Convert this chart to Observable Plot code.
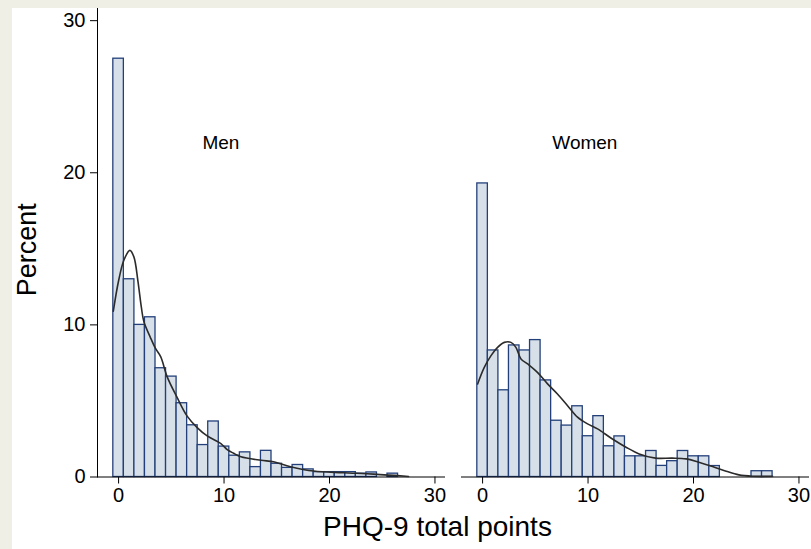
<!DOCTYPE html>
<html>
<head>
<meta charset="utf-8">
<script src="https://cdn.jsdelivr.net/npm/d3@7"></script>
<script src="https://cdn.jsdelivr.net/npm/@observablehq/plot@0.6"></script>
<style>
  html, body { margin: 0; padding: 0; background: #efefe6; width: 811px; height: 549px; overflow: hidden; }
  #chart { position: absolute; left: 12px; top: 8px; width: 799px; height: 541px; background: #ffffff; }
  #chart svg { overflow: visible; }
</style>
</head>
<body>
<div id="chart"></div>
<script>
// ---- data ----
const panels = ["Men", "Women"];
const scores = [0,1,2,3,4,5,6,7,8,9,10,11,12,13,14,15,16,17,18,19,20,21,22,23,24,25,26,27];
const menPct = [27.5, 13.0, 10.0, 10.5, 7.15, 6.6, 4.85, 3.4, 2.1, 3.65, 2.0, 1.4, 1.62, 0.65, 1.72, 0.87, 0.6, 0.79, 0.5, 0.32, 0.32, 0.32, 0.32, 0.22, 0.3, 0, 0.22, 0];
const womenPct = [19.3, 8.32, 5.7, 8.65, 8.32, 9.0, 6.35, 3.7, 3.38, 4.65, 2.68, 4.0, 2.02, 2.67, 1.36, 1.36, 1.71, 0.73, 1.04, 1.71, 1.36, 1.36, 0.72, 0, 0, 0, 0.38, 0.38];

const menKdeX = [-0.5, 0, 0.5, 1.07, 1.45, 1.83, 2.15, 2.4, 3, 3.5, 4, 4.6, 5.5, 6.5, 7.45, 8.4, 9.7, 10.3, 10.9, 11.6, 13.5, 14.7, 16.3, 18.5, 21.3, 24.2, 27.5];
const menKdeY = [10.9, 12.9, 14.25, 14.9, 14.47, 12.9, 11.2, 10.2, 9.2, 8.45, 7.9, 6.6, 5.3, 4.0, 3.25, 2.7, 2.2, 1.8, 1.56, 1.33, 1.1, 1.0, 0.68, 0.39, 0.28, 0.19, 0.03];
const womenKdeX = [-0.47, 0.16, 0.8, 1.42, 2.06, 2.69, 3.16, 3.64, 4.27, 5.2, 6.16, 7.1, 8.06, 9.0, 9.95, 10.9, 12.2, 13.6, 14.85, 16.4, 18.0, 19.3, 20.5, 21.8, 23.1, 24.3, 25.6, 27.5];
const womenKdeY = [6.12, 7.21, 7.98, 8.52, 8.85, 8.85, 8.52, 7.76, 7.43, 6.88, 6.12, 5.46, 4.69, 3.93, 3.49, 3.16, 2.55, 1.96, 1.52, 1.24, 1.24, 1.19, 0.97, 0.69, 0.38, 0.14, 0.05, 0.05];

const xTicks = [0, 10, 20, 30];
const yTicks = [0, 10, 20, 30];

// ---- tables built from the arrays ----
const bars = [];
scores.forEach((s, i) => {
  if (menPct[i] > 0) bars.push({sex: "Men", score: s, pct: menPct[i]});
  if (womenPct[i] > 0) bars.push({sex: "Women", score: s, pct: womenPct[i]});
});
const kde = [
  ...menKdeX.map((x, i) => ({sex: "Men", x, y: menKdeY[i]})),
  ...womenKdeX.map((x, i) => ({sex: "Women", x, y: womenKdeY[i]}))
];

const chart = Plot.plot({
  width: 799,
  height: 541,
  marginLeft: 85,
  marginRight: 2,
  marginTop: 0,
  marginBottom: 72.5,
  style: {background: "white", fontFamily: "'Liberation Sans', Arial, Helvetica, sans-serif", fontSize: "20px", color: "#000", overflow: "visible"},
  fx: {domain: panels, paddingInner: 0.044, paddingOuter: 0, axis: null, label: null},
  x: {domain: [-2, 31], ticks: xTicks, tickSize: 7, tickPadding: 4, label: null},
  y: {domain: [0, 30.8], ticks: yTicks, tickSize: 7, tickPadding: 5, label: null, line: true},
  marks: [
    Plot.rectY(bars, {
      x1: d => d.score - 0.5,
      x2: d => d.score + 0.5,
      y: "pct",
      fx: "sex",
      fill: "#d7e0e9",
      stroke: "#24407a",
      strokeWidth: 1.3
    }),
    Plot.ruleY([0], {stroke: "#000", strokeWidth: 1}),
    Plot.line(kde, {x: "x", y: "y", fx: "sex", stroke: "#2b2b2b", strokeWidth: 1.6, curve: "catmull-rom"}),
    Plot.text(panels, {fx: d => d, x: 9.7, y: 21.95, text: d => d, fontSize: 19, textAnchor: "middle", lineAnchor: "middle", fill: "#000"}),
    Plot.text(["Percent"], {fx: () => "Men", frameAnchor: "left", rotate: -90, dx: -70, dy: 7, fontSize: 27, textAnchor: "middle", lineAnchor: "middle", fill: "#000"}),
    Plot.text(["PHQ-9 total points"], {fx: () => "Men", frameAnchor: "bottom", dx: 166, dy: 50, fontSize: 28, textAnchor: "middle", lineAnchor: "middle", fill: "#000"})
  ]
});
document.getElementById("chart").appendChild(chart);
</script>
</body>
</html>
